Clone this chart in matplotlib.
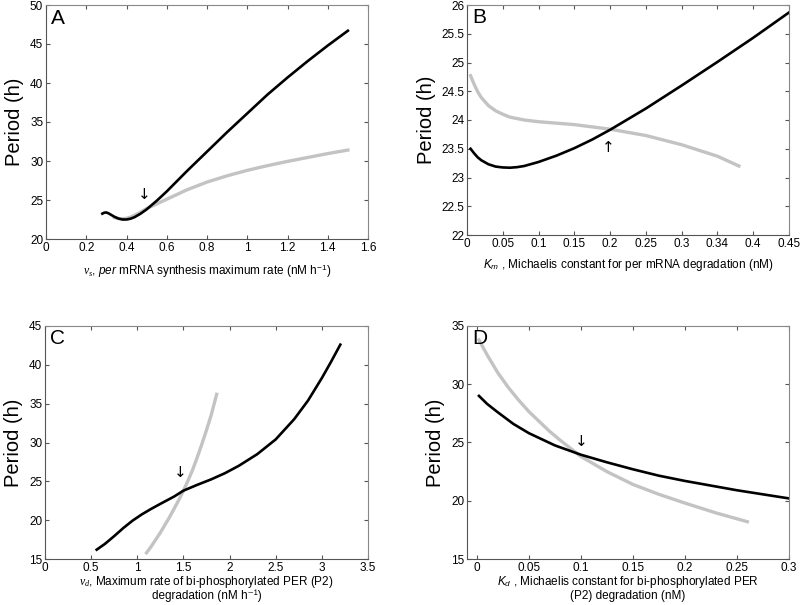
import matplotlib
matplotlib.use("Agg")
import matplotlib.pyplot as plt
import numpy as np

plt.rcParams['font.family'] = ['Liberation Sans', 'DejaVu Sans']
plt.rcParams['mathtext.fontset'] = 'custom'
plt.rcParams['mathtext.rm'] = 'Liberation Sans'
plt.rcParams['mathtext.it'] = 'Liberation Serif:italic'
plt.rcParams['mathtext.sf'] = 'Liberation Sans:italic'

# Panel A
a_black_x = [0.28, 0.29, 0.30, 0.31, 0.32, 0.34, 0.36, 0.38, 0.40, 0.42, 0.44, 0.47, 0.50, 0.55, 0.60, 0.65, 0.70, 0.80, 0.90, 1.00, 1.10, 1.20, 1.30, 1.40, 1.50]
a_black_y = [23.25, 23.38, 23.4, 23.3, 23.15, 22.85, 22.62, 22.5, 22.5, 22.6, 22.8, 23.25, 23.8, 24.9, 26.1, 27.4, 28.7, 31.2, 33.7, 36.1, 38.5, 40.7, 42.8, 44.8, 46.7]
a_gray_x = [0.34, 0.36, 0.38, 0.40, 0.42, 0.46, 0.50, 0.55, 0.60, 0.70, 0.80, 0.90, 1.00, 1.10, 1.20, 1.30, 1.40, 1.50]
a_gray_y = [22.75, 22.62, 22.6, 22.65, 22.8, 23.3, 23.9, 24.5, 25.1, 26.3, 27.3, 28.1, 28.8, 29.4, 29.95, 30.45, 30.95, 31.4]

# Panel B
b_black_x = [0.005, 0.01, 0.015, 0.02, 0.03, 0.04, 0.05, 0.06, 0.07, 0.08, 0.10, 0.125, 0.15, 0.175, 0.20, 0.25, 0.30, 0.35, 0.40, 0.45]
b_black_y = [23.5, 23.42, 23.35, 23.3, 23.23, 23.19, 23.175, 23.17, 23.18, 23.2, 23.27, 23.38, 23.51, 23.66, 23.83, 24.2, 24.6, 25.01, 25.43, 25.87]
b_gray_x = [0.005, 0.01, 0.015, 0.02, 0.03, 0.04, 0.05, 0.06, 0.08, 0.10, 0.15, 0.20, 0.25, 0.30, 0.35, 0.38]
b_gray_y = [24.77, 24.62, 24.49, 24.39, 24.25, 24.16, 24.1, 24.05, 24.0, 23.97, 23.92, 23.84, 23.73, 23.57, 23.37, 23.2]

# Panel C
c_black_x = [0.56, 0.65, 0.75, 0.85, 0.95, 1.05, 1.15, 1.25, 1.4, 1.5, 1.65, 1.8, 1.95, 2.1, 2.3, 2.5, 2.7, 2.85, 3.0, 3.1, 3.2]
c_black_y = [16.2, 16.95, 17.95, 19.0, 19.95, 20.75, 21.45, 22.1, 23.05, 23.8, 24.55, 25.25, 26.05, 27.0, 28.5, 30.4, 33.0, 35.4, 38.3, 40.4, 42.6]
c_gray_x = [1.1, 1.15, 1.2, 1.25, 1.3, 1.35, 1.4, 1.45, 1.5, 1.55, 1.6, 1.65, 1.7, 1.75, 1.8, 1.86]
c_gray_y = [15.8, 16.6, 17.5, 18.4, 19.4, 20.4, 21.5, 22.6, 23.8, 25.1, 26.5, 28.1, 29.8, 31.6, 33.5, 36.2]

# Panel D
d_black_x = [0.002, 0.01, 0.02, 0.035, 0.05, 0.075, 0.10, 0.125, 0.15, 0.175, 0.20, 0.25, 0.30]
d_black_y = [29.0, 28.3, 27.6, 26.6, 25.8, 24.75, 23.95, 23.3, 22.7, 22.15, 21.7, 20.9, 20.2]
d_gray_x = [0.002, 0.01, 0.02, 0.03, 0.04, 0.05, 0.06, 0.07, 0.08, 0.10, 0.125, 0.15, 0.175, 0.20, 0.23, 0.26]
d_gray_y = [33.8, 32.5, 31.0, 29.75, 28.65, 27.65, 26.8, 25.95, 25.2, 23.8, 22.5, 21.4, 20.55, 19.8, 18.95, 18.2]

ylabel = 'Period (h)'
xlabels = [
    r'$v_s$, $\mathsf{per}$ mRNA synthesis maximum rate (nM h$^{\mathrm{-1}}$)',
    r'$\mathsf{K}_{\mathsf{m}}$ , Michaelis constant for per mRNA degradation (nM)',
    r'$v_d$, Maximum rate of bi-phosphorylated PER (P2)' + '\n' + 'degradation (nM h⁻¹)',
    r'$\mathsf{K}_{\mathsf{d}}$ , Michaelis constant for bi-phosphorylated PER' + '\n' + '(P2) degradation (nM)',
]
letters = ['A', 'B', 'C', 'D']

fig = plt.figure(figsize=(8.0, 6.05), dpi=100)
W, H = 800, 605
def rect(l, r, t, b):
    return [l / W, 1 - b / H, (r - l) / W, (b - t) / H]

axA = fig.add_axes(rect(46, 368, 5, 239))
axB = fig.add_axes(rect(467, 789, 5, 235))
axC = fig.add_axes(rect(45, 368, 326, 559))
axD = fig.add_axes(rect(467, 789, 326, 559))

GRAY = '#c3c3c3'
def style(ax, letter, xlabel, xlp=10):
    ax.tick_params(direction='in', top=True, right=True, labelsize=8.5, length=3,
                   color='#555555', pad=2)
    for s in ['left', 'bottom']:
        ax.spines[s].set_color('#555555')
    for s in ['top', 'right']:
        ax.spines[s].set_color('#888888')
    ax.set_ylabel(ylabel, fontsize=14.5, labelpad=4)
    ax.set_xlabel(xlabel, fontsize=8.5, labelpad=xlp, linespacing=1.0)
    ax.text(0.015, 0.985, letter, transform=ax.transAxes, fontsize=15, va='top', ha='left')

# A
axA.plot(a_gray_x, a_gray_y, color=GRAY, lw=2.4)
axA.plot(a_black_x, a_black_y, color='black', lw=1.9)
axA.set_xlim(0, 1.6); axA.set_ylim(20, 50)
axA.set_xticks(np.arange(0, 1.61, 0.2))
axA.set_xticklabels(['0', '0.2', '0.4', '0.6', '0.8', '1', '1.2', '1.4', '1.6'])
axA.set_yticks(range(20, 51, 5))
axA.text(0.49, 25.7, '↓', ha='center', va='center', fontsize=11, family='DejaVu Sans')
style(axA, 'A', xlabels[0], xlp=6)

# B
axB.plot(b_gray_x, b_gray_y, color=GRAY, lw=2.4)
axB.plot(b_black_x, b_black_y, color='black', lw=1.9)
axB.set_xlim(0, 0.45); axB.set_ylim(22, 26)
axB.set_xticks([0, 0.05, 0.1, 0.15, 0.2, 0.25, 0.3, 0.35, 0.4, 0.45])
axB.set_xticklabels(['0', '0.05', '0.1', '0.15', '0.2', '0.25', '0.3', '0.34', '0.4', '0.45'])
axB.set_yticks(np.arange(22, 26.01, 0.5))
axB.set_yticklabels(['22', '22.5', '23', '23.5', '24', '24.5', '25', '25.5', '26'])
axB.text(0.198, 23.52, '↑', ha='center', va='center', fontsize=11, family='DejaVu Sans')
style(axB, 'B', xlabels[1], xlp=5)

# C
axC.plot(c_gray_x, c_gray_y, color=GRAY, lw=2.4)
axC.plot(c_black_x, c_black_y, color='black', lw=1.9)
axC.set_xlim(0, 3.5); axC.set_ylim(15, 45)
axC.set_xticks(np.arange(0, 3.51, 0.5))
axC.set_xticklabels(['0', '0.5', '1', '1.5', '2', '2.5', '3', '3.5'])
axC.set_yticks(range(15, 46, 5))
axC.text(1.47, 26.1, '↓', ha='center', va='center', fontsize=11, family='DejaVu Sans')
style(axC, 'C', xlabels[2], xlp=0)

# D
axD.plot(d_gray_x, d_gray_y, color=GRAY, lw=2.4)
axD.plot(d_black_x, d_black_y, color='black', lw=1.9)
axD.set_xlim(-0.0095, 0.3); axD.set_ylim(15, 35)
axD.set_xticks([0, 0.05, 0.1, 0.15, 0.2, 0.25, 0.3])
axD.set_xticklabels(['0', '0.05', '0.1', '0.15', '0.2', '0.25', '0.3'])
axD.set_yticks(range(15, 36, 5))
axD.text(0.1, 25.1, '↓', ha='center', va='center', fontsize=11, family='DejaVu Sans')
style(axD, 'D', xlabels[3], xlp=0)

fig.savefig('out.png', dpi=100)
